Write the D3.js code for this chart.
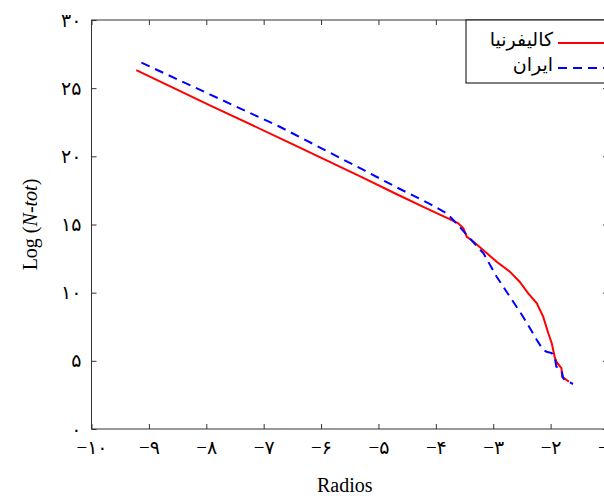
<!DOCTYPE html>
<html>
<head>
<meta charset="utf-8">
<script src="https://cdn.jsdelivr.net/npm/d3@7"></script>
<style>
  html, body { margin: 0; padding: 0; background: #fff; }
  svg { display: block; }
  .tick text { font-family: "Liberation Serif", "DejaVu Sans", serif; }
</style>
</head>
<body>
<svg id="chart" width="604" height="496"></svg>
<script>
// Series: Radios (x) vs Log(N-tot) (y)
const californiaX = [-9.22, -7.9, -6.6, -5.3, -4.68, -4.2, -3.93, -3.75, -3.61, -3.52, -3.46, -3.38, -3.14, -2.94, -2.71, -2.54, -2.39, -2.24, -2.13, -2.04, -1.98, -1.93, -1.90, -1.81, -1.80, -1.68];
const californiaY = [26.33, 23.67, 21.1, 18.5, 17.22, 16.25, 15.72, 15.38, 15.09, 14.72, 14.1, 13.86, 13.0, 12.27, 11.54, 10.8, 9.95, 9.22, 8.24, 7.02, 6.29, 5.3, 4.94, 4.45, 3.84, 3.47];

const iranX = [-9.13, -7.94, -6.72, -5.26, -4.68, -4.1, -3.81, -3.64, -3.41, -3.17, -2.94, -2.71, -2.48, -2.24, -2.13, -2.07, -1.98, -1.93, -1.90, -1.81, -1.78, -1.75, -1.61];
const iranY = [26.87, 24.55, 22.17, 19.0, 17.72, 16.5, 15.82, 15.09, 13.99, 12.89, 11.17, 9.7, 8.24, 6.53, 5.8, 5.67, 5.57, 5.3, 4.57, 4.33, 3.72, 3.6, 3.3];

const xTicks = [-10, -9, -8, -7, -6, -5, -4, -3, -2, -1];
const yTicks = [0, 5, 10, 15, 20, 25, 30];

const seriesNames = ["کالیفرنیا", "ایران"];

// Persian digits for tick labels
const faDigits = "۰۱۲۳۴۵۶۷۸۹";
const toFa = v => (v < 0 ? "\u2212" : "") + String(Math.abs(v)).replace(/\d/g, d => faDigits[+d]);

const svg = d3.select("#chart");
const plotLeft = 91.5, plotRight = 608, plotTop = 20, plotBottom = 429;

const x = d3.scaleLinear().domain([-10, -1]).range([plotLeft, plotRight]);
const y = d3.scaleLinear().domain([0, 30]).range([plotBottom, plotTop]);

const axisColor = "#333";

function styleAxis(g) {
  g.select(".domain").remove();
  g.selectAll(".tick line").attr("stroke", axisColor).attr("stroke-width", 1);
  g.selectAll(".tick text")
    .attr("fill", "#000")
    .style("font-size", "19px")
    .style("direction", "ltr")
    .style("unicode-bidi", "bidi-override");
}

// Bottom axis with inward ticks
svg.append("g")
  .attr("transform", `translate(0,${plotBottom})`)
  .call(d3.axisBottom(x).tickValues(xTicks).tickSize(-5).tickPadding(12).tickFormat(toFa))
  .call(styleAxis);

// Left axis with inward ticks
svg.append("g")
  .attr("transform", `translate(${plotLeft},0)`)
  .call(d3.axisLeft(y).tickValues(yTicks).tickSize(-5).tickPadding(10).tickFormat(toFa))
  .call(styleAxis);

// Top and right axes: ticks only
svg.append("g")
  .attr("transform", `translate(0,${plotTop})`)
  .call(d3.axisTop(x).tickValues(xTicks).tickSize(-5).tickFormat(""))
  .call(styleAxis);
svg.append("g")
  .attr("transform", `translate(${plotRight},0)`)
  .call(d3.axisRight(y).tickValues(yTicks).tickSize(-5).tickFormat(""))
  .call(styleAxis);

// Frame
svg.append("rect")
  .attr("x", plotLeft).attr("y", plotTop)
  .attr("width", plotRight - plotLeft).attr("height", plotBottom - plotTop)
  .attr("fill", "none").attr("stroke", axisColor).attr("stroke-width", 1);

// Lines
const line = d3.line().x(d => x(d[0])).y(d => y(d[1]));
const calData = californiaX.map((v, i) => [v, californiaY[i]]);
const iranData = iranX.map((v, i) => [v, iranY[i]]);

svg.append("path")
  .datum(calData)
  .attr("d", line)
  .attr("fill", "none")
  .attr("stroke", "#ff0000")
  .attr("stroke-width", 2);

svg.append("path")
  .datum(iranData)
  .attr("d", line)
  .attr("fill", "none")
  .attr("stroke", "#0000ff")
  .attr("stroke-width", 2)
  .attr("stroke-dasharray", "9,6");

// Legend
const legend = svg.append("g");
legend.append("rect")
  .attr("x", 466).attr("y", plotTop)
  .attr("width", 200).attr("height", 63)
  .attr("fill", "#fff").attr("stroke", "#000").attr("stroke-width", 1);

const legendItems = [
  { name: seriesNames[0], color: "#ff0000", dash: null, yPos: 43 },
  { name: seriesNames[1], color: "#0000ff", dash: "9,6", yPos: 68 }
];
legendItems.forEach(it => {
  legend.append("line")
    .attr("x1", 558).attr("x2", 620)
    .attr("y1", it.yPos).attr("y2", it.yPos)
    .attr("stroke", it.color).attr("stroke-width", 2)
    .attr("stroke-dasharray", it.dash);
  legend.append("text")
    .attr("x", 553).attr("y", it.yPos + 3)
    .attr("text-anchor", "start")
    .style("font-family", "'DejaVu Sans', sans-serif")
    .style("font-size", "19px")
    .style("direction", "rtl")
    .text(it.name);
});

// Axis labels
svg.append("text")
  .attr("x", (plotLeft + plotRight) / 2 - 5).attr("y", 492)
  .attr("text-anchor", "middle")
  .style("font-family", "'Liberation Serif', serif")
  .style("font-size", "20px")
  .text("Radios");

const yl = svg.append("text")
  .attr("transform", `translate(37,${(plotTop + plotBottom) / 2}) rotate(-90)`)
  .attr("text-anchor", "middle")
  .style("font-family", "'Liberation Serif', serif")
  .style("font-size", "20px");
yl.append("tspan").text("Log (");
yl.append("tspan").style("font-style", "italic").text("N-tot");
yl.append("tspan").text(")");
</script>
</body>
</html>
